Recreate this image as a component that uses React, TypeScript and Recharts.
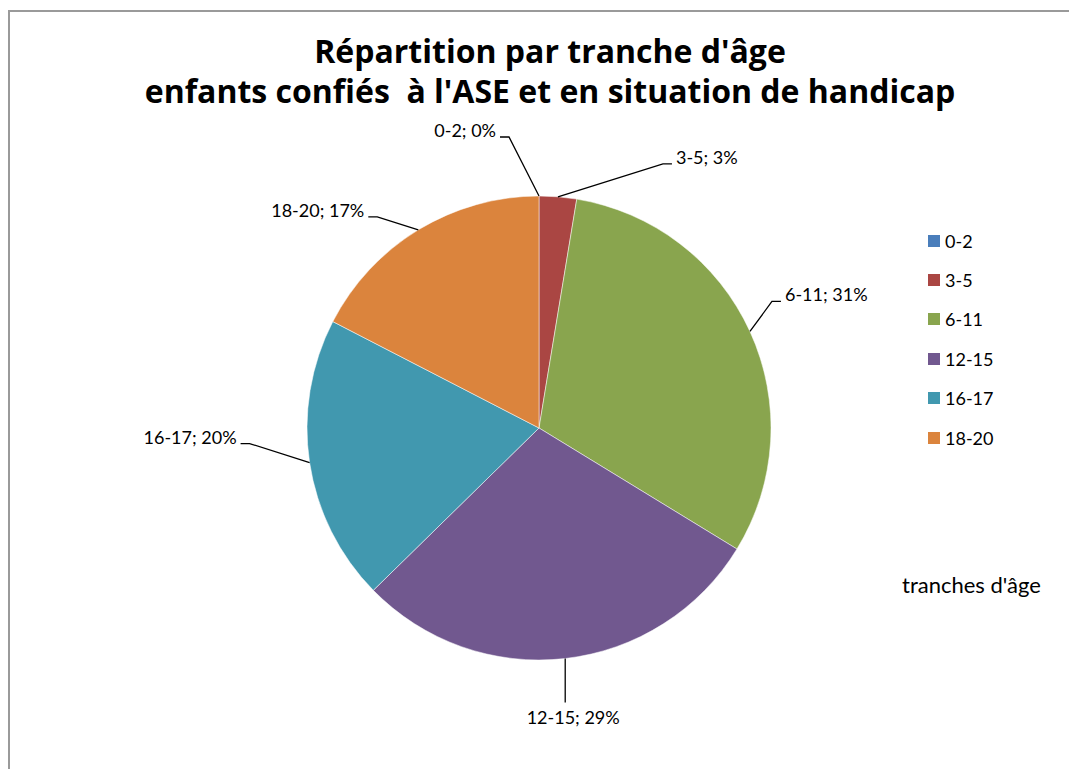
import React from "react";
import { PieChart, Pie, Cell, Legend } from "recharts";

const categories = ["0-2", "3-5", "6-11", "12-15", "16-17", "18-20"];
const shares = [0, 2.6, 31.1, 28.9, 19.9, 17.4];
const colors = ["#4A7EBB", "#AA4643", "#89A54E", "#71588F", "#4198AF", "#DB843D"];

const titleLines = [
  "Répartition par tranche d'âge",
  "enfants confiés  à l'ASE et en situation de handicap",
];
const seriesTitle = "tranches d'âge";

// label placement (leader line elbow relative to slice edge)
const labelLayout = [
  { dx: -30, dy: -59, side: "left" },
  { dx: 105, dy: -33, side: "right" },
  { dx: 22, dy: -30, side: "right" },
  { dx: 0, dy: 44, side: "below" },
  { dx: -60, dy: -19, side: "left" },
  { dx: -41, dy: -13, side: "left" },
];

const data = categories.map((c, i) => ({ name: c, value: shares[i] }));

const FONT = "Lato, 'Liberation Sans', sans-serif";
const TITLE_FONT = "'Open Sans', Lato, sans-serif";
const RAD = Math.PI / 180;

const renderLabel = (props: any) => {
  const { cx, cy, midAngle, outerRadius, percent, index } = props;
  const ex = cx + outerRadius * Math.cos(-midAngle * RAD);
  const ey = cy + outerRadius * Math.sin(-midAngle * RAD);
  const lay = labelLayout[index];
  const text = `${categories[index]}; ${Math.round(percent * 100)}%`;
  const bx = ex + lay.dx;
  const by = ey + lay.dy;
  if (lay.side === "below") {
    return (
      <g key={`lbl-${index}`}>
        <line x1={ex} y1={ey} x2={bx} y2={by} stroke="#000" strokeWidth={1.3} />
        <text x={bx + 8} y={by + 21} textAnchor="middle" fontFamily={FONT} fontSize={18} fill="#000">
          {text}
        </text>
      </g>
    );
  }
  const sgn = lay.side === "right" ? 1 : -1;
  const hx = bx + sgn * 9;
  return (
    <g key={`lbl-${index}`}>
      <polyline
        points={`${ex},${ey} ${bx},${by} ${hx},${by}`}
        fill="none"
        stroke="#000"
        strokeWidth={1.3}
      />
      <text
        x={hx + sgn * 4}
        y={by}
        textAnchor={sgn > 0 ? "start" : "end"}
        fontFamily={FONT}
        fontSize={18}
        fill="#000"
      >
        {text}
      </text>
    </g>
  );
};

const renderLegend = () => (
  <div style={{ fontFamily: FONT, fontSize: 18, color: "#000" }}>
    {categories.map((c, i) => (
      <div key={c} style={{ display: "flex", alignItems: "center", height: 39.4 }}>
        <span
          style={{
            display: "inline-block",
            width: 12,
            height: 12,
            background: colors[i],
            marginRight: 5,
          }}
        />
        <span>{c}</span>
      </div>
    ))}
  </div>
);

export default function App() {
  const W = 1069;
  const H = 761;
  return (
    <div style={{ position: "relative", width: W, height: H, overflow: "hidden", background: "#fff" }}>
      <style>{"html,body{overflow:hidden;}"}</style>
      <div
        style={{
          position: "absolute",
          left: 0,
          top: 2,
          width: 1200,
          height: 900,
          border: "2px solid #9a9a9a",
          boxSizing: "border-box",
        }}
      />
      <PieChart
        width={W}
        height={H}
        margin={{ top: 0, right: 0, bottom: 0, left: 0 }}
        style={{ position: "absolute", left: 0, top: 0 }}
      >
        <Pie
          data={data}
          dataKey="value"
          nameKey="name"
          cx={531}
          cy={420}
          outerRadius={232}
          startAngle={90}
          endAngle={-270}
          isAnimationActive={false}
          stroke="#ffffff"
          strokeWidth={0.5}
          label={renderLabel}
          labelLine={false}
        >
          {data.map((d, i) => (
            <Cell key={d.name} fill={colors[i]} />
          ))}
        </Pie>
        <Legend
          layout="vertical"
          align="right"
          verticalAlign="top"
          content={renderLegend}
          wrapperStyle={{ position: "absolute", left: 920, top: 213, width: 120 }}
        />
      </PieChart>
      <svg
        width={W}
        height={H}
        style={{ position: "absolute", left: 0, top: 0, pointerEvents: "none" }}
      >
        <text x={542} y={55} textAnchor="middle" fontFamily={TITLE_FONT} fontWeight="bold" fontSize={32} fill="#000" style={{ whiteSpace: "pre" }}>
          {titleLines[0]}
        </text>
        <text x={542} y={95} textAnchor="middle" fontFamily={TITLE_FONT} fontWeight="bold" fontSize={32} fill="#000" style={{ whiteSpace: "pre" }}>
          {titleLines[1]}
        </text>
        <text x={894} y={585} fontFamily={FONT} fontSize={22} fill="#000">
          {seriesTitle}
        </text>
      </svg>
    </div>
  );
}
